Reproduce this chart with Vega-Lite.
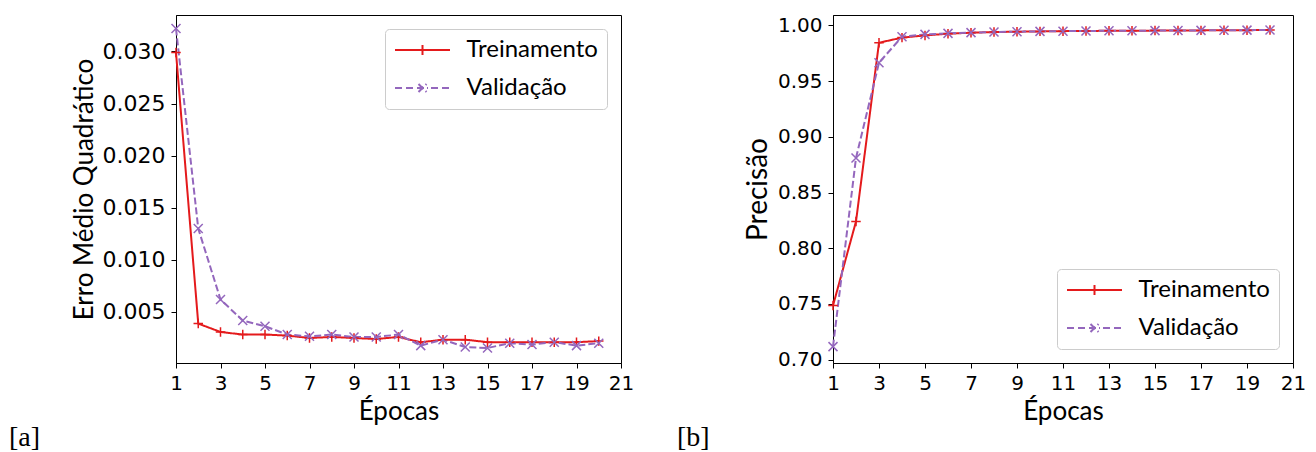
{
  "$schema": "https://vega.github.io/schema/vega-lite/v6.json",
  "padding": {"left": 8, "top": 14, "right": 0, "bottom": 0},
  "background": "white",
  "datasets": {
    "mse": [
      {"epoch": 1, "series": "Treinamento", "value": 0.0299},
      {"epoch": 2, "series": "Treinamento", "value": 0.00388},
      {"epoch": 3, "series": "Treinamento", "value": 0.00308},
      {"epoch": 4, "series": "Treinamento", "value": 0.00283},
      {"epoch": 5, "series": "Treinamento", "value": 0.00283},
      {"epoch": 6, "series": "Treinamento", "value": 0.00273},
      {"epoch": 7, "series": "Treinamento", "value": 0.0025},
      {"epoch": 8, "series": "Treinamento", "value": 0.0026},
      {"epoch": 9, "series": "Treinamento", "value": 0.0025},
      {"epoch": 10, "series": "Treinamento", "value": 0.0024},
      {"epoch": 11, "series": "Treinamento", "value": 0.0026},
      {"epoch": 12, "series": "Treinamento", "value": 0.00209},
      {"epoch": 13, "series": "Treinamento", "value": 0.00234},
      {"epoch": 14, "series": "Treinamento", "value": 0.00234},
      {"epoch": 15, "series": "Treinamento", "value": 0.0021},
      {"epoch": 16, "series": "Treinamento", "value": 0.0021},
      {"epoch": 17, "series": "Treinamento", "value": 0.0021},
      {"epoch": 18, "series": "Treinamento", "value": 0.0021},
      {"epoch": 19, "series": "Treinamento", "value": 0.0021},
      {"epoch": 20, "series": "Treinamento", "value": 0.0022},
      {"epoch": 1, "series": "Validação", "value": 0.0322},
      {"epoch": 2, "series": "Validação", "value": 0.0130},
      {"epoch": 3, "series": "Validação", "value": 0.0062},
      {"epoch": 4, "series": "Validação", "value": 0.00417},
      {"epoch": 5, "series": "Validação", "value": 0.00363},
      {"epoch": 6, "series": "Validação", "value": 0.00283},
      {"epoch": 7, "series": "Validação", "value": 0.00266},
      {"epoch": 8, "series": "Validação", "value": 0.00283},
      {"epoch": 9, "series": "Validação", "value": 0.0026},
      {"epoch": 10, "series": "Validação", "value": 0.0026},
      {"epoch": 11, "series": "Validação", "value": 0.00283},
      {"epoch": 12, "series": "Validação", "value": 0.00177},
      {"epoch": 13, "series": "Validação", "value": 0.00234},
      {"epoch": 14, "series": "Validação", "value": 0.00163},
      {"epoch": 15, "series": "Validação", "value": 0.00154},
      {"epoch": 16, "series": "Validação", "value": 0.0020},
      {"epoch": 17, "series": "Validação", "value": 0.00187},
      {"epoch": 18, "series": "Validação", "value": 0.0021},
      {"epoch": 19, "series": "Validação", "value": 0.00177},
      {"epoch": 20, "series": "Validação", "value": 0.0020}
    ],
    "prec": [
      {"epoch": 1, "series": "Treinamento", "value": 0.7485},
      {"epoch": 2, "series": "Treinamento", "value": 0.824},
      {"epoch": 3, "series": "Treinamento", "value": 0.9844},
      {"epoch": 4, "series": "Treinamento", "value": 0.989},
      {"epoch": 5, "series": "Treinamento", "value": 0.991},
      {"epoch": 6, "series": "Treinamento", "value": 0.9925},
      {"epoch": 7, "series": "Treinamento", "value": 0.9934},
      {"epoch": 8, "series": "Treinamento", "value": 0.994},
      {"epoch": 9, "series": "Treinamento", "value": 0.9943},
      {"epoch": 10, "series": "Treinamento", "value": 0.9946},
      {"epoch": 11, "series": "Treinamento", "value": 0.9948},
      {"epoch": 12, "series": "Treinamento", "value": 0.995},
      {"epoch": 13, "series": "Treinamento", "value": 0.9951},
      {"epoch": 14, "series": "Treinamento", "value": 0.9952},
      {"epoch": 15, "series": "Treinamento", "value": 0.9953},
      {"epoch": 16, "series": "Treinamento", "value": 0.9954},
      {"epoch": 17, "series": "Treinamento", "value": 0.9955},
      {"epoch": 18, "series": "Treinamento", "value": 0.9956},
      {"epoch": 19, "series": "Treinamento", "value": 0.9957},
      {"epoch": 20, "series": "Treinamento", "value": 0.9958},
      {"epoch": 1, "series": "Validação", "value": 0.7117},
      {"epoch": 2, "series": "Validação", "value": 0.881},
      {"epoch": 3, "series": "Validação", "value": 0.9665},
      {"epoch": 4, "series": "Validação", "value": 0.9898},
      {"epoch": 5, "series": "Validação", "value": 0.9919},
      {"epoch": 6, "series": "Validação", "value": 0.9928},
      {"epoch": 7, "series": "Validação", "value": 0.9935},
      {"epoch": 8, "series": "Validação", "value": 0.994},
      {"epoch": 9, "series": "Validação", "value": 0.9943},
      {"epoch": 10, "series": "Validação", "value": 0.9946},
      {"epoch": 11, "series": "Validação", "value": 0.9948},
      {"epoch": 12, "series": "Validação", "value": 0.995},
      {"epoch": 13, "series": "Validação", "value": 0.9951},
      {"epoch": 14, "series": "Validação", "value": 0.9952},
      {"epoch": 15, "series": "Validação", "value": 0.9953},
      {"epoch": 16, "series": "Validação", "value": 0.9954},
      {"epoch": 17, "series": "Validação", "value": 0.9955},
      {"epoch": 18, "series": "Validação", "value": 0.9956},
      {"epoch": 19, "series": "Validação", "value": 0.9957},
      {"epoch": 20, "series": "Validação", "value": 0.9958}
    ]
  },
  "spacing": 41,
  "hconcat": [
    {
      "width": 445,
      "height": 348,
      "data": {"name": "mse"},
      "title": {"text": "[a]", "orient": "bottom", "anchor": "start", "frame": "group", "dx": -167, "offset": 0, "font": "Liberation Serif", "fontSize": 28, "fontWeight": "normal", "color": "black"},
      "encoding": {
        "x": {"field": "epoch", "type": "quantitative", "scale": {"domain": [1, 21], "nice": false, "zero": false},
              "axis": {"values": [1, 3, 5, 7, 9, 11, 13, 15, 17, 19, 21], "title": "Épocas", "format": "d"}},
        "y": {"field": "value", "type": "quantitative", "scale": {"domain": [0.0001, 0.0335], "nice": false, "zero": false},
              "axis": {"values": [0.005, 0.01, 0.015, 0.02, 0.025, 0.03], "format": ".3f", "title": "Erro Médio Quadrático", "labelFontSize": 22}}
      },
      "layer": [
        {"mark": {"type": "line", "strokeWidth": 2},
         "encoding": {
           "color": {"field": "series", "type": "nominal",
                     "scale": {"domain": ["Treinamento", "Validação"], "range": ["#e41a1c", "#9467bd"]},
                     "legend": {"orient": "top-right", "offset": 14,
                       "encode": {"symbols": {"update": {"shape": {"signal": "datum.value == 'Treinamento' ? 'M-2.75,0L2.75,0M0,-0.5L0,0.5' : 'M-2.75,0L-1.95,0M-1.65,0L-0.85,0M-0.55,0L0.55,0M0.85,0L1.65,0M1.95,0L2.75,0M-0.4,-0.4L0.4,0.4M-0.4,0.4L0.4,-0.4'"}}}}}},
           "strokeDash": {"field": "series", "type": "nominal", "legend": null, "scale": {"domain": ["Treinamento", "Validação"], "range": [[1, 0], [7, 3]]}}}},
        {"transform": [{"filter": "datum.series == 'Treinamento'"}],
         "mark": {"type": "point", "filled": false, "strokeWidth": 1.5, "size": 90, "opacity": 1, "color": "#e41a1c", "shape": "M-1,0L1,0M0,-1L0,1"},
         "encoding": {}},
        {"transform": [{"filter": "datum.series == 'Validação'"}],
         "mark": {"type": "point", "filled": false, "strokeWidth": 1.5, "size": 100, "opacity": 1, "color": "#9467bd", "shape": "M-0.9,-0.9L0.9,0.9M-0.9,0.9L0.9,-0.9"},
         "encoding": {}}
      ]
    },
    {
      "width": 460,
      "height": 348,
      "data": {"name": "prec"},
      "title": {"text": "[b]", "orient": "bottom", "anchor": "start", "frame": "group", "dx": -156, "offset": 0, "font": "Liberation Serif", "fontSize": 28, "fontWeight": "normal", "color": "black"},
      "encoding": {
        "x": {"field": "epoch", "type": "quantitative", "scale": {"domain": [1, 21], "nice": false, "zero": false},
              "axis": {"values": [1, 3, 5, 7, 9, 11, 13, 15, 17, 19, 21], "title": "Épocas", "format": "d"}},
        "y": {"field": "value", "type": "quantitative", "scale": {"domain": [0.697, 1.0093], "nice": false, "zero": false},
              "axis": {"values": [0.7, 0.75, 0.8, 0.85, 0.9, 0.95, 1.0], "format": ".2f", "title": "Precisão", "titleFontSize": 28}}
      },
      "layer": [
        {"mark": {"type": "line", "strokeWidth": 2},
         "encoding": {
           "color": {"field": "series", "type": "nominal",
                     "scale": {"domain": ["Treinamento", "Validação"], "range": ["#e41a1c", "#9467bd"]},
                     "legend": {"orient": "bottom-right", "offset": 14,
                       "encode": {"symbols": {"update": {"shape": {"signal": "datum.value == 'Treinamento' ? 'M-2.75,0L2.75,0M0,-0.5L0,0.5' : 'M-2.75,0L-1.95,0M-1.65,0L-0.85,0M-0.55,0L0.55,0M0.85,0L1.65,0M1.95,0L2.75,0M-0.4,-0.4L0.4,0.4M-0.4,0.4L0.4,-0.4'"}}}}}},
           "strokeDash": {"field": "series", "type": "nominal", "legend": null, "scale": {"domain": ["Treinamento", "Validação"], "range": [[1, 0], [7, 3]]}}}},
        {"transform": [{"filter": "datum.series == 'Treinamento'"}],
         "mark": {"type": "point", "filled": false, "strokeWidth": 1.5, "size": 90, "opacity": 1, "color": "#e41a1c", "shape": "M-1,0L1,0M0,-1L0,1"},
         "encoding": {}},
        {"transform": [{"filter": "datum.series == 'Validação'"}],
         "mark": {"type": "point", "filled": false, "strokeWidth": 1.5, "size": 100, "opacity": 1, "color": "#9467bd", "shape": "M-0.9,-0.9L0.9,0.9M-0.9,0.9L0.9,-0.9"},
         "encoding": {}}
      ]
    }
  ],
  "resolve": {"scale": {"color": "independent", "strokeDash": "independent", "x": "independent", "y": "independent"},
              "legend": {"color": "independent", "strokeDash": "independent"}},
  "config": {
    "view": {"stroke": "black", "strokeWidth": 1},
    "axis": {"grid": false, "domainColor": "black", "domainWidth": 1, "tickColor": "black", "tickSize": 5, "tickWidth": 1,
             "labelFont": "DejaVu Sans", "labelFontSize": 20, "labelColor": "black", "labelPadding": 5,
             "titleFont": "Lato", "titleFontSize": 26, "titleFontWeight": "normal", "titleColor": "black", "titlePadding": 5,
             "labelOverlap": false, "labelFlush": false},
    "axisY": {"titlePadding": 5, "labelPadding": 6},
    "legend": {"title": null, "padding": 9, "strokeColor": "#cccccc", "fillColor": "white", "cornerRadius": 4,
               "symbolSize": 400, "symbolStrokeWidth": 2, "symbolOffset": 16.5, "labelOffset": 32,
               "labelFont": "Lato", "labelFontSize": 24, "labelColor": "black", "rowPadding": 14, "symbolFillColor": "transparent"}
  }
}
